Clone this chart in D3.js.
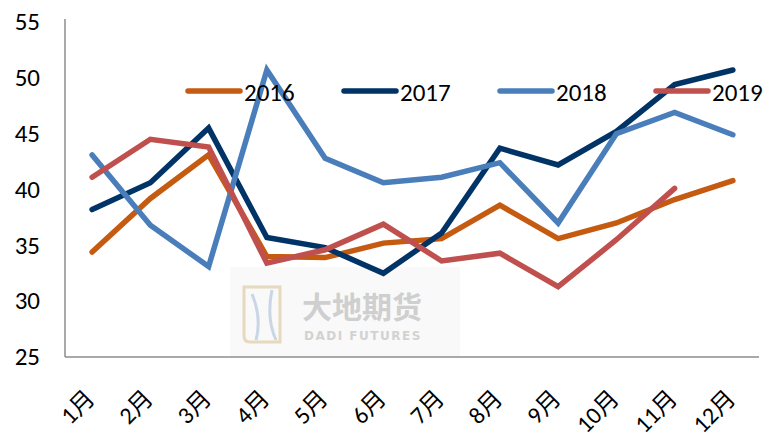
<!DOCTYPE html>
<html>
<head>
<meta charset="utf-8">
<script src="https://cdn.jsdelivr.net/npm/d3@7"></script>
<style>
	body { margin: 0; background: #fff; }
	svg { display: block; font-family: Carlito, "Liberation Sans", "Noto Sans CJK SC", sans-serif; }
</style>
</head>
<body>
<div id="chart"></div>
<script>
// data
var months = ["1月","2月","3月","4月","5月","6月","7月","8月","9月","10月","11月","12月"];
var years = ["2016","2017","2018","2019"];
var colours = ["#C55A11","#003366","#4A7EBB","#C0504D"];
var s2016 = [34.4, 39.2, 43.1, 34.0, 33.9, 35.2, 35.6, 38.6, 35.6, 37.0, 39.1, 40.8];
var s2017 = [38.2, 40.6, 45.5, 35.7, 34.8, 32.5, 36.1, 43.7, 42.2, 45.2, 49.4, 50.7];
var s2018 = [43.1, 36.8, 33.1, 50.7, 42.8, 40.6, 41.1, 42.4, 37.0, 45.0, 46.9, 44.9];
var s2019 = [41.1, 44.5, 43.8, 33.4, 34.6, 36.9, 33.6, 34.3, 31.3, 35.5, 40.1];
var yTicks = [25, 30, 35, 40, 45, 50, 55];

var allSeries = [s2016, s2017, s2018, s2019];

const width = 770;
const height = 438;

const svg = d3.select('#chart')
	.append('svg')
		.attr('width', width)
		.attr('height', height);

const xScale = d3.scalePoint()
	.domain(months)
	.range([63, 762])
	.padding(0.5);

const yScale = d3.scaleLinear()
	.domain([25, 55])
	.range([357, 22]);

// watermark box
const wm = svg.append('g');
wm.append('rect')
	.attr('x', 230).attr('y', 267)
	.attr('width', 230).attr('height', 90)
	.attr('fill', '#f9f9f9');
wm.append('path')
	.attr('d', 'M244,287 L244,336 Q244,342 250,342 L280,342 L280,287 Z')
	.attr('fill', 'none')
	.attr('stroke', '#e6d9bd')
	.attr('stroke-width', 3);
wm.append('path')
	.attr('d', 'M252,294 Q262,318 256,340 M272,290 Q266,318 276,340')
	.attr('fill', 'none')
	.attr('stroke', '#c9d6e6')
	.attr('stroke-width', 3);
wm.append('text')
	.attr('x', 302).attr('y', 318)
	.attr('font-family', '"Noto Sans CJK SC"')
	.attr('font-weight', 'bold')
	.attr('font-size', 30)
	.attr('fill', '#cfcfcf')
	.text('大地期货');
wm.append('text')
	.attr('x', 304).attr('y', 340)
	.attr('font-family', '"DejaVu Sans"')
	.attr('font-weight', 'bold')
	.attr('font-size', 12)
	.attr('letter-spacing', 1.5)
	.attr('fill', '#d2d2d2')
	.text('DADI FUTURES');

// axes lines
svg.append('line')
	.attr('x1', 65).attr('x2', 65)
	.attr('y1', 19).attr('y2', 357)
	.attr('stroke', '#8c8c8c').attr('stroke-width', 1.5);
svg.append('line')
	.attr('x1', 65).attr('x2', 759)
	.attr('y1', 357).attr('y2', 357)
	.attr('stroke', '#8c8c8c').attr('stroke-width', 1.5);

// y labels
svg.selectAll('.ylab')
	.data(yTicks)
	.enter()
	.append('text')
		.attr('class', 'ylab')
		.attr('x', 40)
		.attr('y', (d) => yScale(d))
		.attr('dy', '0.33em')
		.attr('text-anchor', 'end')
		.attr('font-size', 25)
		.attr('fill', '#000')
		.text((d) => d);

// x labels
svg.selectAll('.xlab')
	.data(months)
	.enter()
	.append('text')
		.attr('class', 'xlab')
		.attr('text-anchor', 'end')
		.attr('font-size', 24)
		.attr('fill', '#000')
		.attr('transform', (d) => `translate(${xScale(d) + 4}, 400) rotate(-45)`)
		.text((d) => d);

// lines
const line = d3.line()
	.x((d, i) => xScale(months[i]))
	.y((d) => yScale(d));

for (let i = 0; i < allSeries.length; i++){
	svg.append('path')
		.datum(allSeries[i])
		.attr('d', line)
		.attr('fill', 'none')
		.attr('stroke', colours[i])
		.attr('stroke-width', 5.5)
		.attr('stroke-linejoin', 'miter')
		.attr('stroke-linecap', 'round');
}

// legend
const legend = svg.append('g');
for (let i = 0; i < years.length; i++){
	let lx = 188 + i * 156;
	legend.append('line')
		.attr('x1', lx).attr('x2', lx + 52)
		.attr('y1', 91).attr('y2', 91)
		.attr('stroke', colours[i])
		.attr('stroke-width', 5.5)
		.attr('stroke-linecap', 'round');
	legend.append('text')
		.attr('x', lx + 56)
		.attr('y', 101)
		.attr('font-size', 25)
		.attr('fill', '#000')
		.text(years[i]);
}
</script>
</body>
</html>
